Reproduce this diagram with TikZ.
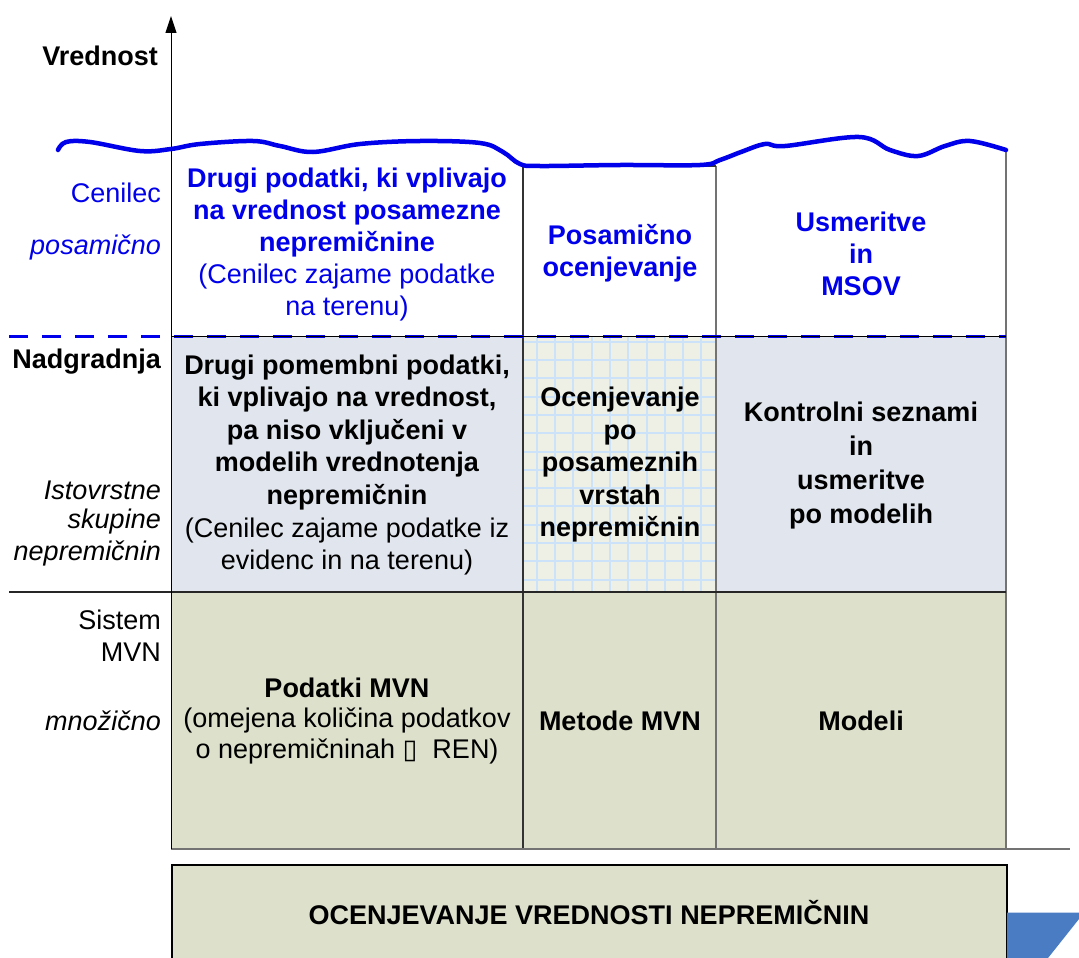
\documentclass[tikz,border=0pt]{standalone}
\usepackage{fontspec}
\setmainfont{Liberation Sans}
\newfontfamily\dejavu{DejaVu Sans}
\usetikzlibrary{arrows.meta}
\definecolor{tblue}{RGB}{0,0,235}
\definecolor{rowtwo}{RGB}{225,230,238}
\definecolor{gridbg}{RGB}{238,239,229}
\definecolor{gridln}{RGB}{204,226,248}
\definecolor{rowthree}{RGB}{221,224,203}
\definecolor{arrblue}{RGB}{74,124,196}
\tikzset{
  txt/.style={font=\fontsize{27}{31.5}\selectfont, align=center, inner sep=0pt},
  lab/.style={font=\fontsize{27}{31.5}\selectfont, anchor=east, inner sep=0pt},
}
\begin{document}
\begin{tikzpicture}[x=1pt,y=-1pt]
\useasboundingbox (0,0) rectangle (1079,958);
% fills
\fill[rowtwo] (171,336) rectangle (1006,592);
\fill[gridbg] (523,336) rectangle (716,592);
\begin{scope}
\clip (523,336) rectangle (716,592);
\foreach \k in {0,...,11} {
  \draw[gridln, line width=2pt] (536.7+18.3*\k,336) -- (536.7+18.3*\k,592);
}
\foreach \k in {0,...,14} {
  \draw[gridln, line width=2pt] (523,341.7+18.3*\k) -- (716,341.7+18.3*\k);
}
\end{scope}
\fill[rowthree] (171,592) rectangle (1006,848);
% vertical column lines
\draw[line width=1.2pt, draw=black!80] (523,166) -- (523,848);
\draw[line width=1.5pt, draw=black!55] (716,166) -- (716,848);
\draw[line width=1.5pt, draw=black!55] (1006,150) -- (1006,848);
\draw[line width=1.2pt, draw=black!80] (523,166) -- (716,166);
% dashed separator
\draw[tblue, line width=3pt, dash pattern=on 19pt off 14pt] (9,336) -- (1006,336);
\draw[line width=0.8pt, black] (171,336) -- (1006,336);
% row 3 top line
\draw[line width=2pt, draw=black!85] (9,592) -- (1006,592);
% horizontal axis
\draw[line width=1.5pt, draw=black!55] (171,849) -- (1070,849);
% vertical axis
\coordinate (ybot) at (171,849);
\coordinate (ytop) at (171,16);
\draw[line width=1pt, -{Triangle[length=17pt,width=11pt]}] (ybot) -- (ytop);
% wavy line
\draw[tblue, line width=4.5pt, line cap=round] plot[smooth, tension=0.6] coordinates {
 (58,150) (66,142) (90,142) (140,151) (171,149) (200,144) (253,141) (280,146)
 (313,152) (360,144) (420,141) (480,143) (503,152) (520,164) (540,166) (620,165)
 (700,165) (720,160) (741,152) (765,144) (785,146) (859,137) (890,150) (918,156)
 (945,146) (970,141) (1006,150)};
% bottom box
\node[draw=black, line width=2pt, fill=rowthree, minimum width=835pt, minimum height=100pt, anchor=north west, inner sep=0pt] (base) at (171,864) {};
\node[font=\fontsize{27}{31}\selectfont\bfseries, inner sep=0pt] (basetxt) at (589,913) {OCENJEVANJE VREDNOSTI NEPREMIČNIN};
% blue arrow fragment
\fill[arrblue] (1007,912.5) -- (1079,912.5) -- (1079,919) -- (1048,958) -- (1007,958) -- cycle;
% left labels
\node[lab, font=\fontsize{27}{31.5}\selectfont\bfseries] (vred) at (158,56) {Vrednost};
\node[lab, text=tblue] (cen) at (161,193) {Cenilec};
\node[lab, text=tblue, font=\fontsize{27}{31.5}\selectfont\itshape] (posl) at (161,247) {posamično};
\node[lab, font=\fontsize{27}{31.5}\selectfont\bfseries] (nad) at (161,362) {Nadgradnja};
\node[lab, font=\fontsize{27}{31.5}\selectfont\itshape] (ist) at (161,490) {Istovrstne};
\node[lab, font=\fontsize{27}{31.5}\selectfont\itshape] (sku) at (161,522) {skupine};
\node[lab, font=\fontsize{27}{31.5}\selectfont\itshape] (nep) at (161,553) {nepremičnin};
\node[lab] (sis) at (161,620) {Sistem};
\node[lab] (mvn) at (161,652) {MVN};
\node[lab, font=\fontsize{27}{31.5}\selectfont\itshape] (mno) at (161,721) {množično};
% row 1
\node[txt, text=tblue, font=\fontsize{27}{32}\selectfont] (r1c1) at (347,245) {\textbf{Drugi podatki, ki vplivajo}\\ \textbf{na vrednost posamezne}\\ \textbf{nepremičnine}\\ (Cenilec zajame podatke\\ na terenu)};
\node[txt, text=tblue, font=\fontsize{27}{31.5}\selectfont\bfseries] (r1c2) at (620,253) {Posamično\\ ocenjevanje};
\node[txt, text=tblue, font=\fontsize{27}{32}\selectfont\bfseries] (r1c3) at (861,254) {Usmeritve\\ in\\ MSOV};
% row 2
\node[txt, font=\fontsize{27}{32.6}\selectfont] (r2c1) at (347,465) {\textbf{Drugi pomembni podatki,}\\ \textbf{ki vplivajo na vrednost,}\\ \textbf{pa niso vključeni v}\\ \textbf{modelih vrednotenja}\\ \textbf{nepremičnin}\\ (Cenilec zajame podatke iz\\ evidenc in na terenu)};
\node[txt, font=\fontsize{27}{32.5}\selectfont\bfseries] (r2c2) at (620,465) {Ocenjevanje\\ po\\ posameznih\\ vrstah\\ nepremičnin};
\node[txt, font=\fontsize{27}{33.7}\selectfont\bfseries] (r2c3) at (861,465.5) {Kontrolni seznami\\ in\\ usmeritve\\ po modelih};
% row 3
\node[txt, font=\fontsize{27}{30.5}\selectfont] (r3c1) at (347,721) {\textbf{Podatki MVN}\\ (omejena količina podatkov\\ o nepremičninah {\dejavu ▯}\ \ REN)};
\node[txt, font=\fontsize{27}{31.5}\selectfont\bfseries] (r3c2) at (620,721) {Metode MVN};
\node[txt, font=\fontsize{27}{31.5}\selectfont\bfseries] (r3c3) at (861,721) {Modeli};
\end{tikzpicture}
\end{document}
